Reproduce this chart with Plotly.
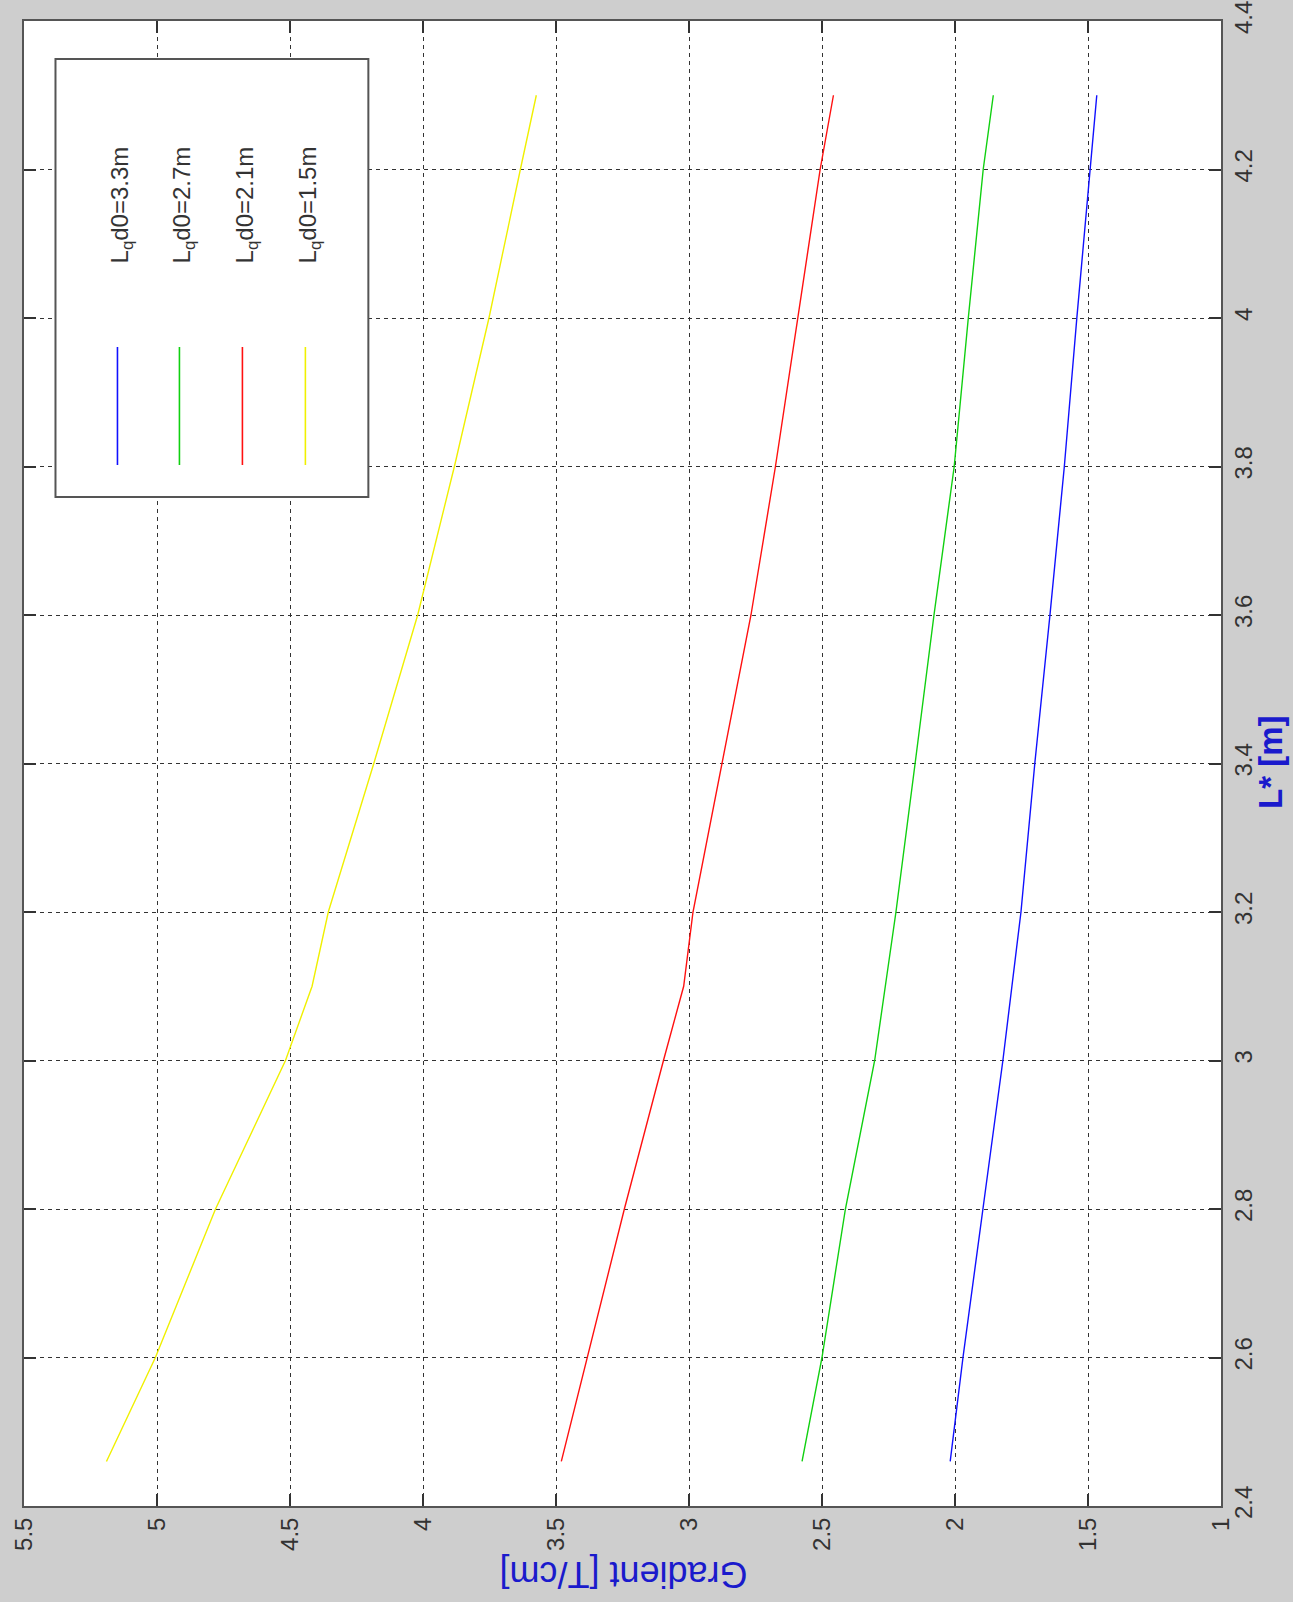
import plotly.graph_objects as go

# ---- data (L* [m] vs Gradient [T/cm]) ----
L_star = [2.46, 2.6, 2.8, 3.0, 3.1, 3.2, 3.4, 3.6, 3.8, 4.0, 4.2, 4.3]
grad_33 = [2.018, 1.970, 1.895, 1.820, 1.786, 1.752, 1.700, 1.643, 1.589, 1.542, 1.492, 1.467]
grad_27 = [2.575, 2.500, 2.412, 2.302, 2.262, 2.222, 2.150, 2.079, 2.003, 1.950, 1.894, 1.856]
grad_21 = [3.480, 3.383, 3.243, 3.096, 3.020, 2.985, 2.876, 2.767, 2.675, 2.591, 2.507, 2.457]
grad_15 = [5.190, 5.006, 4.780, 4.517, 4.417, 4.356, 4.185, 4.020, 3.882, 3.752, 3.634, 3.574]

series_names = ["L<sub>q</sub>d0=3.3m", "L<sub>q</sub>d0=2.7m",
                "L<sub>q</sub>d0=2.1m", "L<sub>q</sub>d0=1.5m"]
series_vals = [grad_33, grad_27, grad_21, grad_15]
series_colors = ["#1010ff", "#10d010", "#ff1010", "#f0f000"]

grad_ticks = [1, 1.5, 2, 2.5, 3, 3.5, 4, 4.5, 5, 5.5]
grad_ticktext = ["1", "1.5", "2", "2.5", "3", "3.5", "4", "4.5", "5", "5.5"]
L_ticks = [2.4, 2.6, 2.8, 3.0, 3.2, 3.4, 3.6, 3.8, 4.0, 4.2, 4.4]
L_ticktext = ["2.4", "2.6", "2.8", "3", "3.2", "3.4", "3.6", "3.8", "4", "4.2", "4.4"]

FONT = "Liberation Sans, Arial, sans-serif"
BG = "#cecece"

fig = go.Figure()
for name, vals, col in zip(series_names, series_vals, series_colors):
    fig.add_trace(go.Scatter(x=vals, y=L_star, mode="lines", name=name,
                             line=dict(color=col, width=1.4), showlegend=False))

W, H = 1293, 1602
ml, mr, mt, mb = 23.5, 72, 21, 96

fig.update_layout(
    width=W, height=H,
    margin=dict(l=ml, r=mr, t=mt, b=mb, pad=0, autoexpand=False),
    paper_bgcolor=BG, plot_bgcolor="white",
    font=dict(family=FONT, color="#333333"),
    xaxis=dict(range=[5.5, 1], tickvals=grad_ticks, ticktext=grad_ticktext,
               tickangle=-90, tickfont=dict(size=24, color="#333333"),
               showgrid=True, gridcolor="#333333", griddash="4px,4px", gridwidth=1,
               ticks="inside", ticklen=12, tickcolor="#333333", tickwidth=1.5,
               showline=True, linecolor="#555555", linewidth=2, mirror="ticks",
               zeroline=False, side="bottom", automargin=False),
    yaxis=dict(range=[2.4, 4.4], tickvals=L_ticks, ticktext=L_ticktext,
               tickangle=-90, tickfont=dict(size=24, color="#333333"),
               showgrid=True, gridcolor="#333333", griddash="4px,4px", gridwidth=1,
               ticks="inside", ticklen=12, tickcolor="#333333", tickwidth=1.5,
               showline=True, linecolor="#555555", linewidth=2, mirror="ticks",
               zeroline=False, side="right", automargin=False),
)

pw = W - ml - mr
ph = H - mt - mb
def px(xp):
    return (xp - ml) / pw
def py(yp):
    return (H - mb - yp) / ph

# axis titles (rotated like the reference)
fig.add_annotation(text="Gradient [T/cm]", xref="paper", yref="paper",
                   x=px(623), y=py(1575), showarrow=False, textangle=180,
                   xanchor="center", yanchor="middle",
                   font=dict(size=36, color="#1a1acc", family=FONT))
fig.add_annotation(text="<b>L* [m]</b>", xref="paper", yref="paper",
                   x=px(1270), y=py(762), showarrow=False, textangle=-90,
                   xanchor="center", yanchor="middle",
                   font=dict(size=33, color="#1a1acc", family=FONT))

# legend box drawn rotated
fig.add_shape(type="rect", xref="paper", yref="paper",
              x0=px(55), x1=px(368), y0=py(497), y1=py(59),
              fillcolor="white", line=dict(color="#555555", width=2), layer="above")
leg_x = [117, 179, 242, 305]
for name, col, lx in zip(series_names, series_colors, leg_x):
    fig.add_shape(type="line", xref="paper", yref="paper",
                  x0=px(lx), x1=px(lx), y0=py(465), y1=py(347),
                  line=dict(color=col, width=1.6), layer="above")
    fig.add_annotation(text=name, xref="paper", yref="paper",
                       x=px(lx + 5), y=py(205), showarrow=False, textangle=-90,
                       xanchor="center", yanchor="middle",
                       font=dict(size=24, color="#333333", family=FONT))

fig.write_html(
    "out.html",
    config={"displayModeBar": False},
    post_script="document.body.style.margin='0';document.body.style.background='%s';" % BG,
)
